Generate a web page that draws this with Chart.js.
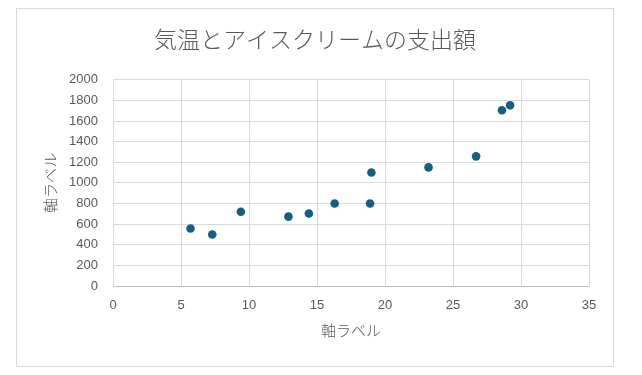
<!DOCTYPE html>
<html lang="ja">
<head>
<meta charset="utf-8">
<script src="https://cdn.jsdelivr.net/npm/chart.js@4.4.1/dist/chart.umd.min.js"></script>
<style>
  html, body { margin: 0; padding: 0; background: #fff; }
  #wrap { position: relative; width: 642px; height: 375px; }
  #frame { position: absolute; left: 16px; top: 8px; width: 598px; height: 359px; border: 1px solid #d9d9d9; box-sizing: border-box; }
  canvas { position: absolute; left: 0; top: 0; }
</style>
</head>
<body>
<div id="wrap">
  <div id="frame"></div>
  <canvas id="scatterChart" width="642" height="375"></canvas>
</div>
<script>
// 気温 (x) とアイスクリームの支出額 (y)
const temperatures = [5.7, 7.3, 9.4, 12.9, 14.4, 16.3, 18.9, 19.0, 23.2, 26.7, 28.6, 29.2];
const spending = [557, 500, 720, 673, 703, 800, 800, 1100, 1150, 1257, 1704, 1752];

const chartTitle = '気温とアイスクリームの支出額';
const xAxisTitle = '軸ラベル';
const yAxisTitle = '軸ラベル';

const points = temperatures.map((t, i) => ({ x: t, y: spending[i] }));

const textColor = '#595959';
const gridColor = '#d9d9d9';
const jpFont = "'Noto Sans CJK JP', 'Noto Sans', sans-serif";
const numFont = "'Liberation Sans', Arial, sans-serif";

const ctx = document.getElementById('scatterChart').getContext('2d');
const scatterChart = new Chart(ctx, {
    type: 'scatter',
    data: {
        datasets: [{
            label: 'spending',
            data: points,
            backgroundColor: '#156082',
            borderWidth: 0,
            pointRadius: 4.3
        }]
    },
    options: {
        responsive: false,
        animation: false,
        // left padding chosen so the title centres on the frame
        layout: { padding: { left: 41, right: 53, top: 0, bottom: 0 } },
        plugins: {
            legend: { display: false },
            tooltip: { enabled: false },
            title: {
                display: true,
                text: chartTitle,
                color: textColor,
                font: { family: jpFont, size: 23, weight: 300, lineHeight: 1.25 },
                padding: { top: 25, bottom: 26 }
            }
        },
        scales: {
            x: {
                type: 'linear',
                min: 0,
                max: 35,
                ticks: { stepSize: 5, color: textColor, padding: 12, font: { family: numFont, size: 13 } },
                grid: { color: gridColor, drawTicks: false },
                border: { color: '#bfbfbf' },
                title: {
                    display: true,
                    text: xAxisTitle,
                    color: textColor,
                    font: { family: jpFont, size: 15, weight: 300, lineHeight: 1.2 },
                    padding: { top: 0, bottom: 36 }
                },
                afterFit: function(scale) { scale.height = 89; }
            },
            y: {
                min: 0,
                max: 2000,
                ticks: {
                    stepSize: 200,
                    color: textColor,
                    padding: 15,
                    font: { family: numFont, size: 13 },
                    callback: function(value) { return String(value); }
                },
                grid: { color: gridColor, drawTicks: false },
                border: { color: gridColor },
                title: {
                    display: true,
                    text: yAxisTitle,
                    color: textColor,
                    font: { family: jpFont, size: 15, weight: 300, lineHeight: 1.2 },
                    padding: { top: 0, bottom: 0 }
                },
                afterFit: function(scale) { scale.width = 72; }
            }
        }
    }
});
</script>
</body>
</html>
